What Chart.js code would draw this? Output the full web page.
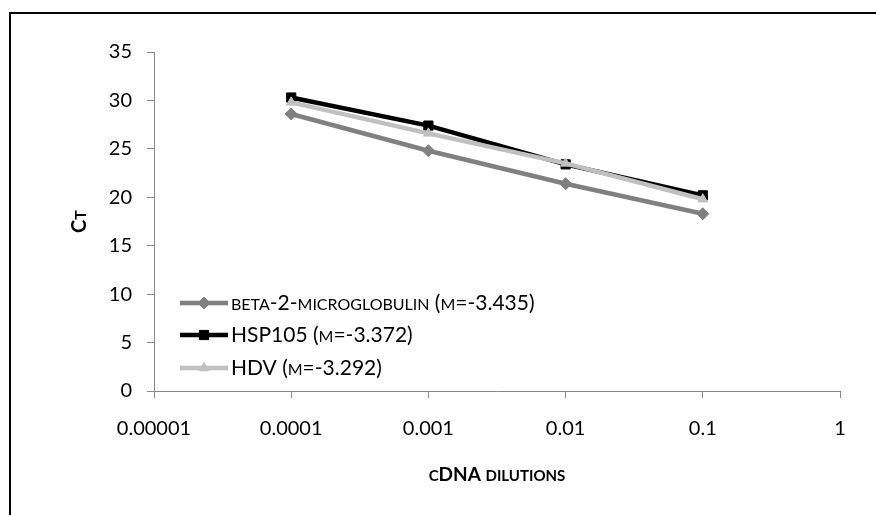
<!DOCTYPE html>
<html>
<head>
<meta charset="utf-8">
<script src="https://cdn.jsdelivr.net/npm/chart.js@4.4.1/dist/chart.umd.min.js"></script>
<style>
  html, body { margin:0; padding:0; background:#fff; overflow:hidden; }
  #wrap { position:relative; width:876px; height:515px; }
</style>
</head>
<body>
<div id="wrap"><canvas id="c" width="876" height="515"></canvas></div>
<script>
// --- data ---
const dilutions = [0.0001, 0.001, 0.01, 0.1];
const beta2 = [28.6, 24.8, 21.4, 18.3];
const hsp105 = [30.3, 27.4, 23.4, 20.2];
const hdv = [29.8, 26.6, 23.5, 19.8];
const seriesNames = ['beta-2-microglobulin (m=-3.435)', 'HSP105 (m=-3.372)', 'HDV (m=-3.292)'];
const xTickValues = [0.00001, 0.0001, 0.001, 0.01, 0.1, 1];
const xTickLabels = ['0.00001', '0.0001', '0.001', '0.01', '0.1', '1'];
const yTickValues = [0, 5, 10, 15, 20, 25, 30, 35];
const xTitle = 'cDNA dilutions';
const yTitle = 'Ct';

const FONT = 'Lato, "Open Sans", sans-serif';
const AXIS_GREY = '#868686';

function pts(ys){ return dilutions.map((x, i) => ({ x, y: ys[i] })); }

// small caps: lowercase letters are drawn as smaller capitals
function scRuns(text){
  const runs = [];
  for (const ch of text){
    const small = ch !== ch.toUpperCase();
    const s = small ? ch.toUpperCase() : ch;
    const last = runs[runs.length - 1];
    if (last && last.small === small) last.s += s; else runs.push({ s, small });
  }
  return runs;
}
function drawSC(ctx, text, x, y, size, weight, align){
  const runs = scRuns(text);
  const fontFor = r => `${weight} ${r.small ? Math.round(size * 0.78) : size}px ${FONT}`;
  let w = 0;
  runs.forEach(r => { ctx.font = fontFor(r); r.w = ctx.measureText(r.s).width; w += r.w; });
  let cx = align === 'center' ? x - w / 2 : x;
  ctx.textAlign = 'left';
  ctx.textBaseline = 'alphabetic';
  runs.forEach(r => { ctx.font = fontFor(r); ctx.fillText(r.s, cx, y); cx += r.w; });
}

const series = [
  { name: seriesNames[0], data: beta2, color: '#808080', style: 'rectRot', radius: 6 },
  { name: seriesNames[1], data: hsp105, color: '#000000', style: 'rect', radius: 6.5 },
  { name: seriesNames[2], data: hdv, color: '#c0c0c0', style: 'triangle', radius: 5.5 }
];

// frame round the whole chart (runs off to the right and bottom)
const framePlugin = {
  id: 'frame',
  beforeDraw(chart){
    const ctx = chart.ctx;
    ctx.save();
    ctx.fillStyle = '#fff';
    ctx.fillRect(0, 0, chart.width, chart.height);
    ctx.fillStyle = '#000';
    ctx.fillRect(9, 12, 2, chart.height);
    ctx.fillRect(9, 12, chart.width, 2);
    ctx.restore();
  }
};

// axis titles + legend inside the plot
const textPlugin = {
  id: 'texts',
  afterDraw(chart){
    const ctx = chart.ctx;
    const a = chart.chartArea;
    ctx.save();
    ctx.fillStyle = '#000';
    // x title
    drawSC(ctx, xTitle, (a.left + a.right) / 2, 481, 19, 'bold', 'center');
    // y title
    ctx.save();
    ctx.translate(86, (a.top + a.bottom) / 2);
    ctx.rotate(-Math.PI / 2);
    drawSC(ctx, yTitle, 0, 0, 20, 'bold', 'center');
    ctx.restore();

    // legend
    const lx = a.left + 26, rowY = [303, 335, 368];
    series.forEach((s, i) => {
      const y = rowY[i];
      ctx.strokeStyle = s.color;
      ctx.lineWidth = 4.5;
      ctx.beginPath(); ctx.moveTo(lx, y); ctx.lineTo(lx + 48, y); ctx.stroke();
      ctx.fillStyle = s.color;
      ctx.lineWidth = 1;
      Chart.helpers.drawPoint(ctx, { pointStyle: s.style, radius: s.radius, rotation: 0, borderWidth: 1 }, lx + 24, y);
      ctx.fillStyle = '#000';
      drawSC(ctx, s.name, lx + 51, y + 7, 21, 'normal', 'left');
    });
    ctx.restore();
  }
};

new Chart(document.getElementById('c'), {
  type: 'line',
  data: {
    datasets: series.map((s, i) => ({
      label: s.name,
      data: pts(s.data),
      borderColor: s.color,
      backgroundColor: s.color,
      borderWidth: 4.5,
      pointStyle: s.style,
      pointRadius: s.radius,
      pointBorderWidth: 1,
      pointBackgroundColor: s.color,
      pointBorderColor: s.color,
      tension: 0,
      fill: false,
      order: 2 - i
    }))
  },
  options: {
    responsive: false,
    animation: false,
    devicePixelRatio: 1,
    layout: { padding: { top: 52, right: 36, bottom: 0, left: 0 } },
    plugins: { legend: { display: false }, tooltip: { enabled: false } },
    scales: {
      x: {
        type: 'logarithmic',
        min: xTickValues[0],
        max: xTickValues[xTickValues.length - 1],
        offset: false,
        afterBuildTicks: s => { s.ticks = xTickValues.map(v => ({ value: v })); },
        afterFit: s => { s.height = 124; },
        ticks: {
          autoSkip: false,
          maxRotation: 0,
          padding: 19,
          color: '#000',
          font: { family: FONT, size: 20 },
          callback: (v, i) => xTickLabels[i]
        },
        grid: { drawOnChartArea: false, drawTicks: true, tickLength: 7, color: AXIS_GREY },
        border: { display: true, color: AXIS_GREY, width: 1 }
      },
      y: {
        min: yTickValues[0],
        max: yTickValues[yTickValues.length - 1],
        afterBuildTicks: s => { s.ticks = yTickValues.map(v => ({ value: v })); },
        afterFit: s => { s.width = 154; },
        ticks: {
          padding: 15,
          color: '#000',
          font: { family: FONT, size: 20 },
          callback: v => String(v)
        },
        grid: { drawOnChartArea: false, drawTicks: true, tickLength: 7, color: AXIS_GREY },
        border: { display: true, color: AXIS_GREY, width: 1 }
      }
    }
  },
  plugins: [framePlugin, textPlugin]
});
</script>
</body>
</html>
